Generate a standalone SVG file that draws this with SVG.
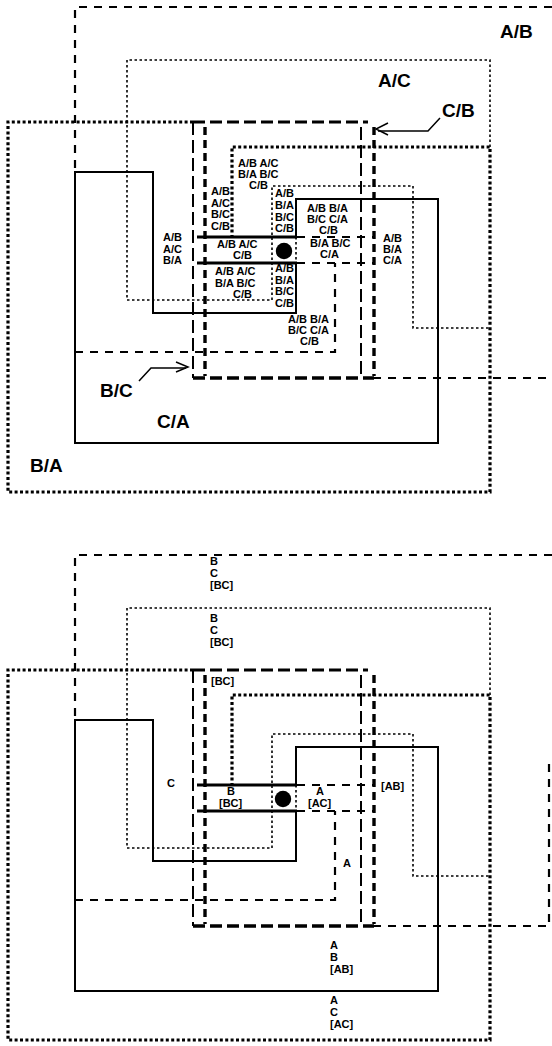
<svg xmlns="http://www.w3.org/2000/svg" xmlns:xlink="http://www.w3.org/1999/xlink" width="552" height="1046" viewBox="0 0 552 1046">
<style>
  .ln { fill: none; stroke: #000; }
  .ab { stroke-width: 2.2; stroke-dasharray: 8 7; }
  .ac { stroke-width: 1.6; stroke-dasharray: 2.5 2.5; }
  .ba { stroke-width: 3.2; stroke-dasharray: 3 2.4; }
  .cb { stroke-width: 2; stroke-dasharray: 13 5; }
  .cbt { stroke-width: 3; stroke-dasharray: 12 5; }
  .bc { stroke-width: 3.4; stroke-dasharray: 8 5; }
  .bcb { stroke-width: 3.4; stroke-dasharray: 12 5; }
  .ca { stroke-width: 2; }
  .thick { stroke-width: 3; }
  .arr { fill: none; stroke: #000; stroke-width: 1.5; }
  text { font-family: "Liberation Sans", Arial, sans-serif; font-weight: bold; fill: #000; }
  .s { font-size: 11px; }
  .L { font-size: 19px; }
</style>
<defs>
  <g id="lines">
    <path class="ln ab" d="M552,7 H75 V172"/>
    <path class="ln ab" d="M75,352 H335 V263"/>
    <path class="ln ab" d="M297,237 H373 M297,263 H373"/>
    <path class="ln ab" d="M373,378 H552"/>
    <path class="ln ac" d="M490,147 V60 H127 V300 H272 V186 H413 V328 H490"/>
    <path class="ln ac" d="M296,237 V263"/>
    <path class="ln ba" d="M193,122 H8 V492 H490 V147 H232 V236"/>
    <path class="ln cbt" d="M193,122 H368"/>
    <path class="ln cb" d="M193,122 V378"/>
    <path class="ln cb" d="M361,127 V378"/>
    <path class="ln bc" d="M205,127 V376"/>
    <path class="ln bc" d="M374,127 V376"/>
    <path class="ln bcb" d="M193,378 H374"/>
    <path class="ln ca" d="M296,237 V199 H438 V443 H75 V172 H153 V313 H296 V263"/>
    <path class="ln thick" d="M197,237 H297 M197,263 H297"/>
  </g>
</defs>

<g id="top-diagram">
  <use xlink:href="#lines" href="#lines"/>
  <circle id="top-dot" cx="284" cy="251" r="8.2" fill="#000"/>
  <g id="top-arrows">
    <path class="arr" d="M440,118 L428,131 H378"/>
    <path class="arr" d="M388,123 L376,129 L388,135"/>
    <path class="arr" d="M139,381 L151,368 H186"/>
    <path class="arr" d="M176,362 L188,367 L176,372"/>
  </g>
  <g id="top-big-labels">
    <text class="L" x="500" y="38">A/B</text>
    <text class="L" x="378" y="87">A/C</text>
    <text class="L" x="442" y="117">C/B</text>
    <text class="L" x="100" y="397">B/C</text>
    <text class="L" x="157" y="428">C/A</text>
    <text class="L" x="30" y="472">B/A</text>
  </g>
  <g id="top-small-labels">
    <text class="s" x="238" y="167">A/B A/C</text>
    <text class="s" x="238" y="178">B/A B/C</text>
    <text class="s" x="249" y="189">C/B</text>

    <text class="s" x="211" y="195">A/B</text>
    <text class="s" x="211" y="206.5">A/C</text>
    <text class="s" x="211" y="218">B/C</text>
    <text class="s" x="211" y="229.5">C/B</text>

    <text class="s" x="275" y="197">A/B</text>
    <text class="s" x="275" y="209">B/A</text>
    <text class="s" x="275" y="221">B/C</text>
    <text class="s" x="275" y="232">C/B</text>

    <text class="s" x="307" y="212">A/B B/A</text>
    <text class="s" x="307" y="223">B/C C/A</text>
    <text class="s" x="319" y="234">C/B</text>

    <text class="s" x="163" y="241">A/B</text>
    <text class="s" x="163" y="253">A/C</text>
    <text class="s" x="163" y="264">B/A</text>

    <text class="s" x="217" y="248">A/B A/C</text>
    <text class="s" x="233" y="259">C/B</text>

    <text class="s" x="310" y="247">B/A B/C</text>
    <text class="s" x="320" y="258">C/A</text>

    <text class="s" x="383" y="242">A/B</text>
    <text class="s" x="383" y="253">B/A</text>
    <text class="s" x="383" y="264">C/A</text>

    <text class="s" x="215" y="275">A/B A/C</text>
    <text class="s" x="215" y="287">B/A B/C</text>
    <text class="s" x="233" y="298">C/B</text>

    <text class="s" x="275" y="272">A/B</text>
    <text class="s" x="275" y="283.5">B/A</text>
    <text class="s" x="275" y="295">B/C</text>
    <text class="s" x="275" y="306.5">C/B</text>

    <text class="s" x="288" y="323">A/B B/A</text>
    <text class="s" x="288" y="334">B/C C/A</text>
    <text class="s" x="300" y="345">C/B</text>
  </g>
</g>

<g id="bottom-diagram">
  <use xlink:href="#lines" href="#lines" transform="translate(0,548)"/>
  <path class="ln ab" d="M549,764 V926"/>
  <circle id="bottom-dot" cx="283" cy="799" r="8.2" fill="#000"/>
  <g id="bottom-labels">
    <text class="s" x="210" y="565">B</text>
    <text class="s" x="210" y="577">C</text>
    <text class="s" x="210" y="589">[BC]</text>

    <text class="s" x="210" y="622">B</text>
    <text class="s" x="210" y="634">C</text>
    <text class="s" x="210" y="646">[BC]</text>

    <text class="s" x="211" y="685">[BC]</text>

    <text class="s" x="167" y="787">C</text>

    <text class="s" x="227" y="795">B</text>
    <text class="s" x="219" y="807">[BC]</text>

    <text class="s" x="316" y="795">A</text>
    <text class="s" x="308" y="807">[AC]</text>

    <text class="s" x="381" y="790">[AB]</text>

    <text class="s" x="343" y="867">A</text>

    <text class="s" x="330" y="949">A</text>
    <text class="s" x="330" y="961">B</text>
    <text class="s" x="330" y="973">[AB]</text>

    <text class="s" x="330" y="1004">A</text>
    <text class="s" x="330" y="1016">C</text>
    <text class="s" x="330" y="1028">[AC]</text>
  </g>
</g>
</svg>
